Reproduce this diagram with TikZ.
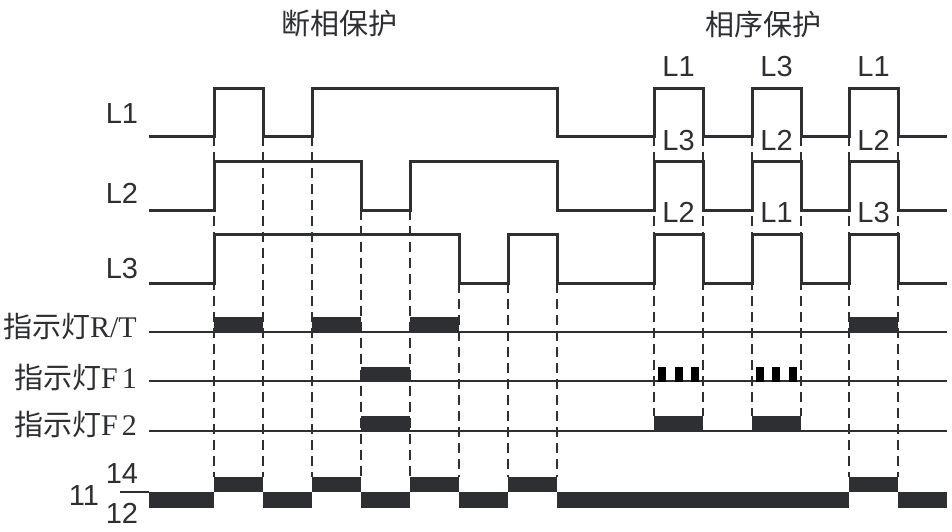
\documentclass[tikz,border=0pt]{standalone}
\usepackage{fontspec}
\newfontfamily\cjk{Noto Sans CJK SC}
\newfontfamily\lsans{Liberation Sans}
\newfontfamily\lserif{Liberation Serif}
\definecolor{ink}{HTML}{2D2F33}
\begin{document}
\begin{tikzpicture}[x=1pt,y=-1pt,
  wave/.style={draw=ink,line width=3pt,line join=miter},
  dashline/.style={draw=ink,line width=2.2pt,dash pattern=on 10pt off 6pt},
  baseln/.style={draw=ink,line width=2.4pt},
  blk/.style={fill=ink},
  pulse/.style={fill=black},
  lab/.style={font=\lsans\fontsize{29}{29}\selectfont,inner sep=0pt,anchor=base,text=ink},
  title/.style={font=\cjk\fontsize{29}{29}\selectfont,inner sep=0pt,anchor=center,text=ink},
  ind/.style={font=\fontsize{29}{29}\selectfont,inner sep=0pt,anchor=base east,text=ink}]
\useasboundingbox (0,0) rectangle (952,531);
\fill[white] (0,0) rectangle (952,531);

% dashed guides
\foreach \x in {214,263,312,849,898} \draw[dashline] (\x,136) -- (\x,477);
\foreach \x in {361,410} \draw[dashline] (\x,210) -- (\x,477);
\foreach \x in {459,508,557} \draw[dashline] (\x,283) -- (\x,477);
\foreach \x in {654,703,752,801} \draw[dashline] (\x,136) -- (\x,416);

% waveforms
\draw[wave] (149,136) -- (214,136) -- (214,88) -- (263,88) -- (263,136) -- (312,136) -- (312,88) -- (557,88) -- (557,136) -- (654,136) -- (654,88) -- (703,88) -- (703,136) -- (752,136) -- (752,88) -- (801,88) -- (801,136) -- (849,136) -- (849,88) -- (898,88) -- (898,136) -- (947,136);
\draw[wave] (149,210) -- (214,210) -- (214,161) -- (361,161) -- (361,210) -- (410,210) -- (410,161) -- (557,161) -- (557,210) -- (654,210) -- (654,161) -- (703,161) -- (703,210) -- (752,210) -- (752,161) -- (801,161) -- (801,210) -- (849,210) -- (849,161) -- (898,161) -- (898,210) -- (947,210);
\draw[wave] (149,283) -- (214,283) -- (214,234) -- (459,234) -- (459,283) -- (508,283) -- (508,234) -- (557,234) -- (557,283) -- (654,283) -- (654,234) -- (703,234) -- (703,283) -- (752,283) -- (752,234) -- (801,234) -- (801,283) -- (849,283) -- (849,234) -- (898,234) -- (898,283) -- (947,283);

% indicator R/T
\draw[baseln] (149,332) -- (947,332);
\foreach \a/\b in {214/263,312/361,410/459,849/898} \fill[blk] (\a,317) rectangle (\b,333);
% indicator F1
\draw[baseln] (149,381) -- (947,381);
\fill[blk] (361,367) rectangle (410,382);
\foreach \a in {658,675,691,756,772,789} \fill[pulse] (\a,367) rectangle (\a+8,382);
% indicator F2
\draw[baseln] (149,431) -- (947,431);
\foreach \a/\b in {361/410,654/703,752/801} \fill[blk] (\a,416) rectangle (\b,432);

% relay contacts
\draw[draw=ink,line width=2.2pt] (120,492) -- (149,492);
\foreach \a/\b in {149/214,263/312,361/410,459/508,557/849,898/947} \fill[blk] (\a,492) rectangle (\b,508);
\foreach \a/\b in {214/263,312/361,410/459,508/557,849/898} \fill[blk] (\a,477) rectangle (\b,492);

% titles
\node[title] (t1) at (339,24) {断相保护};
\node[title] (t2) at (763,24) {相序保护};

% left labels
\node[lab] (l1) at (122,123) {L1};
\node[lab] (l2) at (122,203) {L2};
\node[lab] (l3) at (122,278) {L3};

% phase sequence labels
\node[lab] (a1) at (678.5,76) {L1};
\node[lab] (a2) at (776.5,76) {L3};
\node[lab] (a3) at (873.5,76) {L1};
\node[lab] (b1) at (678.5,150) {L3};
\node[lab] (b2) at (776.5,150) {L2};
\node[lab] (b3) at (873.5,150) {L2};
\node[lab] (c1) at (678.5,222) {L2};
\node[lab] (c2) at (776.5,222) {L1};
\node[lab] (c3) at (873.5,222) {L3};

% indicator labels
\node[ind] (irt) at (137,337) {{\cjk 指示灯}{\lserif\fontsize{30}{30}\selectfont R/T}};
\node[ind] (if1) at (137,388) {{\cjk 指示灯}{\lserif\fontsize{30}{30}\selectfont F\kern4pt 1}};
\node[ind] (if2) at (137,435) {{\cjk 指示灯}{\lserif\fontsize{30}{30}\selectfont F\kern4pt 2}};

% relay labels
\node[lab] (r11) at (84,505) {11};
\node[lab] (r14) at (122,483) {14};
\node[lab] (r12) at (122,523) {12};
\end{tikzpicture}
\end{document}
